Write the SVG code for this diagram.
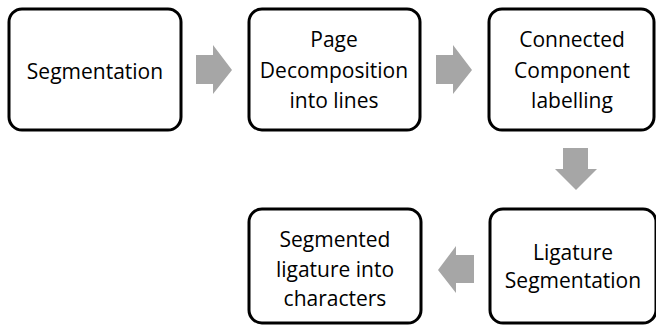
<svg xmlns="http://www.w3.org/2000/svg" width="656" height="326" viewBox="0 0 656 326">
<style>
.box{fill:#fff;stroke:#000;stroke-width:3}
.t{font-family:"Open Sans","Liberation Sans",sans-serif;font-size:21px;fill:#000;text-anchor:middle}
.arr{fill:#a6a6a6}
</style>
<rect width="656" height="326" fill="#fff"/>
<g id="connectors">
<polygon class="arr" points="196,55 213,55 213,45 232,70 213,94 213,84 196,84"/>
<polygon class="arr" points="436,55 453,55 453,45 472,70 453,94 453,84 436,84"/>
<polygon class="arr" points="563,148 588,148 588,169 597,169 576,190 555,169 563,169"/>
<polygon class="arr" points="474,255 456,255 456,246 438,270 456,293 456,283 474,283"/>
</g>
<g id="n1"><rect class="box" x="9" y="9" width="172" height="121" rx="13"/><text class="t" x="95" y="79">Segmentation</text></g>
<g id="n2"><rect class="box" x="249" y="9" width="171" height="121" rx="13"/><text class="t" x="334" y="47">Page</text><text class="t" x="334" y="78">Decomposition</text><text class="t" x="334" y="108">into lines</text></g>
<g id="n3"><rect class="box" x="489" y="9" width="165" height="121" rx="13"/><text class="t" x="572" y="47">Connected</text><text class="t" x="572" y="78">Component</text><text class="t" x="572" y="108">labelling</text></g>
<g id="n4"><rect class="box" x="490" y="209" width="166" height="114" rx="13"/><text class="t" x="573" y="260">Ligature</text><text class="t" x="573" y="288">Segmentation</text></g>
<g id="n5"><rect class="box" x="249" y="209" width="172" height="114" rx="13"/><text class="t" x="335" y="247">Segmented</text><text class="t" x="335" y="277">ligature into</text><text class="t" x="335" y="306">characters</text></g>
</svg>
